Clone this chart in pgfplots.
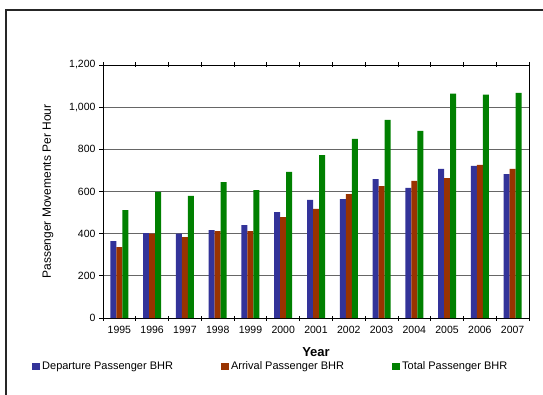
\documentclass[border=0pt]{standalone}
\usepackage{pgfplots}
\pgfplotsset{compat=1.18}
\usepackage{fontspec}
\setmainfont{Liberation Sans}

\definecolor{depblue}{HTML}{333399}
\definecolor{arrbrown}{HTML}{993300}
\definecolor{totgreen}{HTML}{008000}

\begin{document}
\begin{tikzpicture}[x=1pt,y=1pt]
\useasboundingbox (0,0) rectangle (543,394);
\clip (0,0) rectangle (543,394);
% open frame around the chart
\draw[line width=2pt, black!85] (6,-5) -- (6,384) -- (550,384);

\begin{axis}[
  at={(103pt,76pt)}, anchor=south west,
  scale only axis, width=426pt, height=253pt,
  ybar=0pt, bar width=6pt,
  xmin=-0.5, xmax=12.5,
  ymin=0, ymax=1200,
  xtick={0,...,12},
  xticklabels={1995,1996,1997,1998,1999,2000,2001,2002,2003,2004,2005,2006,2007},
  major x tick style={draw=none},
  minor xtick={-0.5,0.5,...,12.5},
  minor tick length=5pt,
  minor x tick style={black, line width=0.8pt},
  xtick align=center,
  ytick={0,200,...,1200},
  ytick align=outside, major tick length=4pt,
  ytick pos=left,
  y tick style={black, line width=0.8pt},
  ymajorgrids, grid style={black!60, line width=0.7pt},
  axis line style={line width=0.9pt},
  /pgf/number format/assume math mode=true,
  /pgf/number format/1000 sep={,},
  tick label style={font=\fontsize{10.5}{12}\selectfont},
  xticklabel style={yshift=-3pt},
  xlabel={\textbf{Year}},
  xlabel style={font=\fontsize{13}{15}\selectfont,
    at={(axis description cs:0.5,-0.134)}, anchor=center},
  ylabel={Passenger Movements Per Hour},
  ylabel style={font=\fontsize{12}{14}\selectfont,
    at={(axis description cs:-0.129,0.5)}, anchor=center},
  legend columns=3,
  legend style={draw=none, fill=none, at={(-71pt,-48pt)}, anchor=west,
    font=\fontsize{11}{13}\selectfont,
    /tikz/every even column/.append style={column sep=46pt},
    inner sep=0pt},
  legend image code/.code={\fill[#1] (0pt,-3.5pt) rectangle (8pt,3.5pt);},
]
\addplot[fill=depblue, draw=none] coordinates {
 (0,365) (1,402) (2,400) (3,417) (4,441) (5,502) (6,560) (7,564) (8,659) (9,617) (10,707) (11,721) (12,683)};
\addplot[fill=arrbrown, draw=none] coordinates {
 (0,336) (1,400) (2,384) (3,412) (4,412) (5,479) (6,517) (7,588) (8,626) (9,650) (10,664) (11,726) (12,707)};
\addplot[fill=totgreen, draw=none] coordinates {
 (0,512) (1,598) (2,579) (3,645) (4,607) (5,693) (6,773) (7,850) (8,940) (9,888) (10,1064) (11,1059) (12,1068)};
\legend{Departure Passenger BHR, Arrival Passenger BHR, Total Passenger BHR}
\end{axis}
\end{tikzpicture}
\end{document}
